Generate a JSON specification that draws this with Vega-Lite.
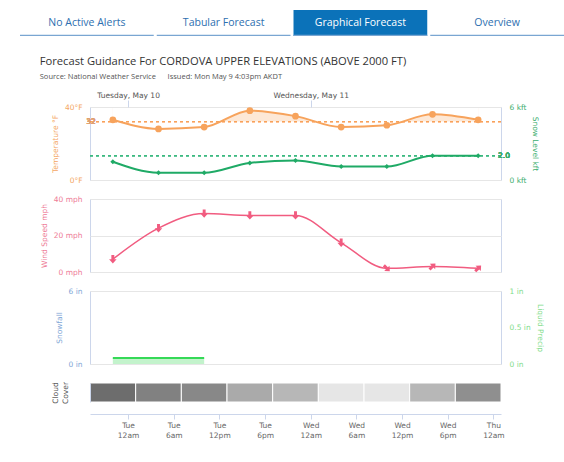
{
  "$schema": "https://vega.github.io/schema/vega-lite/v6.json",
  "background": "white",
  "padding": {"left": 20, "top": 10, "right": 0, "bottom": 5},
  "config": {
    "view": {"stroke": "#ccd6eb"},
    "axis": {"labelFont": "DejaVu Sans", "labelFontSize": 7.5, "titleFont": "DejaVu Sans", "titleFontSize": 7.5, "titleFontWeight": "normal", "domain": false, "ticks": false, "gridColor": "#e6e6e6", "labelPadding": 8, "titlePadding": 5},
    "title": {"font": "Open Sans", "fontSize": 11.2, "fontWeight": "normal", "color": "#333333", "anchor": "start", "subtitleFont": "Open Sans", "subtitleFontSize": 7.5, "subtitleColor": "#555555", "subtitlePadding": 6},
    "text": {"font": "DejaVu Sans"}
  },
  "datasets": {
    "tabs": [
      {"tab": "No Active Alerts", "state": "inactive"},
      {"tab": "Tabular Forecast", "state": "inactive"},
      {"tab": "Graphical Forecast", "state": "active"},
      {"tab": "Overview", "state": "inactive"}
    ],
    "fc": [
      {"t": "2022-05-09T22:00:00", "start": "2022-05-09T19:00:00", "end": "2022-05-10T01:00:00", "temp": 33, "snowlevel": 1.5, "wind": 7, "dir": 180, "cloud": 95},
      {"t": "2022-05-10T04:00:00", "start": "2022-05-10T01:00:00", "end": "2022-05-10T07:00:00", "temp": 28, "snowlevel": 0.6, "wind": 24, "dir": 180, "cloud": 80},
      {"t": "2022-05-10T10:00:00", "start": "2022-05-10T07:00:00", "end": "2022-05-10T13:00:00", "temp": 29, "snowlevel": 0.6, "wind": 32, "dir": 180, "cloud": 75},
      {"t": "2022-05-10T16:00:00", "start": "2022-05-10T13:00:00", "end": "2022-05-10T19:00:00", "temp": 38, "snowlevel": 1.4, "wind": 31, "dir": 180, "cloud": 50},
      {"t": "2022-05-10T22:00:00", "start": "2022-05-10T19:00:00", "end": "2022-05-11T01:00:00", "temp": 35, "snowlevel": 1.6, "wind": 31, "dir": 180, "cloud": 40},
      {"t": "2022-05-11T04:00:00", "start": "2022-05-11T01:00:00", "end": "2022-05-11T07:00:00", "temp": 29, "snowlevel": 1.1, "wind": 16, "dir": 180, "cloud": 5},
      {"t": "2022-05-11T10:00:00", "start": "2022-05-11T07:00:00", "end": "2022-05-11T13:00:00", "temp": 30, "snowlevel": 1.1, "wind": 2, "dir": 135, "cloud": 5},
      {"t": "2022-05-11T16:00:00", "start": "2022-05-11T13:00:00", "end": "2022-05-11T19:00:00", "temp": 36, "snowlevel": 2.0, "wind": 3, "dir": 45, "cloud": 40},
      {"t": "2022-05-11T22:00:00", "start": "2022-05-11T19:00:00", "end": "2022-05-12T01:00:00", "temp": 33, "snowlevel": 2.0, "wind": 2, "dir": 45, "cloud": 70}
    ],
    "snow": [
      {"start": "2022-05-09T22:00:00", "end": "2022-05-10T10:00:00", "snowfall": 0.5}
    ]
  },
  "spacing": 19,
  "vconcat": [
    {
      "width": 411,
      "height": 26,
      "data": {"name": "tabs"},
      "view": {"stroke": null},
      "encoding": {"x": {"field": "tab", "type": "nominal", "sort": null, "axis": null, "scale": {"range": [-70, 474], "paddingInner": 0.022, "paddingOuter": 0}}},
      "layer": [
        {"mark": {"type": "rect"}, "encoding": {"color": {"field": "state", "type": "nominal", "scale": {"domain": ["active", "inactive"], "range": ["#0b72b9", "#ffffff"]}, "legend": null}}},
        {"mark": {"type": "rect", "color": "#7aa6d2"}, "encoding": {"y": {"datum": 0, "type": "quantitative", "scale": {"domain": [0, 1]}, "axis": null}, "y2": {"datum": 0.05}}},
        {"mark": {"type": "text", "font": "Open Sans", "fontSize": 10.5}, "encoding": {"text": {"field": "tab"}, "color": {"field": "state", "type": "nominal", "scale": {"domain": ["active", "inactive"], "range": ["#ffffff", "#2d6fb0"]}, "legend": null}}}
      ],
      "resolve": {"scale": {"color": "independent"}}
    },
    {
      "title": {"text": "Forecast Guidance For CORDOVA UPPER ELEVATIONS (ABOVE 2000 FT)", "subtitle": "Source: National Weather Service\u00a0\u00a0\u00a0\u00a0\u00a0\u00a0Issued: Mon May 9 4:03pm AKDT", "offset": 10},
      "bounds": "flush",
      "spacing": 19,
      "vconcat": [
        {
          "width": 411,
          "height": 73,
          "data": {"name": "fc"},
          "layer": [
            {
              "layer": [
                {
                  "mark": {"type": "area", "interpolate": "monotone", "color": "#fde8d6"},
                  "encoding": {
                    "x": {"field": "t", "type": "temporal", "scale": {"domain": [{"year": 2022, "month": "May", "date": 9, "hours": 19}, {"year": 2022, "month": "May", "date": 12, "hours": 1}]},
                      "axis": {"orient": "top", "values": [{"year": 2022, "month": "May", "date": 10}, {"year": 2022, "month": "May", "date": 11}], "labelExpr": "timeFormat(datum.value, '%A, %B %-d')", "title": null, "grid": false, "ticks": true, "tickSize": 7, "tickColor": "#ccd6eb", "labelPadding": 1, "labelColor": "#555555", "labelFontSize": 7.5}},
                    "y": {"datum": 39.5, "type": "quantitative", "scale": {"domain": [0, 40]},
                      "axis": {"orient": "left", "values": [0, 20, 40], "labelExpr": "datum.value + '°F'", "title": "Temperature °F", "labelColor": "#f4a766", "titleColor": "#f4a766", "grid": true}},
                    "y2": {"datum": 32}
                  }
                },
                {
                  "mark": {"type": "area", "interpolate": "monotone", "color": "#ffffff"},
                  "encoding": {"x": {"field": "t", "type": "temporal"}, "y": {"field": "temp", "type": "quantitative"}, "y2": {"datum": 39.5}}
                },
                {
                  "mark": {"type": "rule", "color": "#f7a35c", "strokeDash": [3, 3], "strokeWidth": 1},
                  "encoding": {"y": {"datum": 32, "type": "quantitative"}}
                },
                {
                  "mark": {"type": "text", "color": "#e0a070", "fontSize": 7.5, "align": "center", "baseline": "middle", "dx": 1},
                  "encoding": {"x": {"datum": {"year": 2022, "month": "May", "date": 9, "hours": 19}, "type": "temporal"}, "y": {"datum": 32, "type": "quantitative"}, "text": {"value": "32"}}
                },
                {
                  "mark": {"type": "line", "interpolate": "monotone", "color": "#f7a35c", "strokeWidth": 2},
                  "encoding": {"x": {"field": "t", "type": "temporal"}, "y": {"field": "temp", "type": "quantitative"}}
                },
                {
                  "mark": {"type": "point", "shape": "circle", "filled": true, "opacity": 1, "color": "#f7a35c", "size": 45},
                  "encoding": {"x": {"field": "t", "type": "temporal"}, "y": {"field": "temp", "type": "quantitative"}}
                }
              ]
            },
            {
              "layer": [
                {
                  "mark": {"type": "rule", "color": "#3dbb80", "strokeDash": [3, 3], "strokeWidth": 1},
                  "encoding": {"y": {"datum": 2, "type": "quantitative", "scale": {"domain": [0, 6]},
                    "axis": {"orient": "right", "values": [0, 3, 6], "labelExpr": "datum.value + ' kft'", "title": "Snow Level kft", "labelColor": "#3cae6e", "titleColor": "#3cae6e", "grid": false}}}
                },
                {
                  "mark": {"type": "text", "color": "#3cae6e", "fontSize": 7.5, "align": "left", "baseline": "middle", "dx": -3},
                  "encoding": {"x": {"datum": {"year": 2022, "month": "May", "date": 12, "hours": 1}, "type": "temporal"}, "y": {"datum": 2, "type": "quantitative"}, "text": {"value": "2.0"}}
                },
                {
                  "mark": {"type": "line", "interpolate": "monotone", "color": "#1faa66", "strokeWidth": 2},
                  "encoding": {"x": {"field": "t", "type": "temporal"}, "y": {"field": "snowlevel", "type": "quantitative"}}
                },
                {
                  "mark": {"type": "point", "shape": "diamond", "filled": true, "opacity": 1, "color": "#1faa66", "size": 25},
                  "encoding": {"x": {"field": "t", "type": "temporal"}, "y": {"field": "snowlevel", "type": "quantitative"}}
                }
              ]
            }
          ],
          "resolve": {"scale": {"y": "independent"}}
        },
        {
          "width": 411,
          "height": 73,
          "data": {"name": "fc"},
          "encoding": {
            "x": {"field": "t", "type": "temporal", "scale": {"domain": [{"year": 2022, "month": "May", "date": 9, "hours": 19}, {"year": 2022, "month": "May", "date": 12, "hours": 1}]}, "axis": null},
            "y": {"field": "wind", "type": "quantitative", "scale": {"domain": [0, 40]},
              "axis": {"orient": "left", "values": [0, 20, 40], "labelExpr": "datum.value + ' mph'", "title": "Wind Speed mph", "labelColor": "#ee7b96", "titleColor": "#ee7b96", "grid": true}}
          },
          "layer": [
            {"mark": {"type": "line", "interpolate": "monotone", "color": "#f15c80", "strokeWidth": 1.5}},
            {"mark": {"type": "point", "shape": "M0,-1L0.9,0L0.35,0L0.35,1L-0.35,1L-0.35,0L-0.9,0Z", "filled": true, "opacity": 1, "color": "#f15c80", "size": 70},
              "encoding": {"angle": {"field": "dir", "type": "quantitative", "scale": {"domain": [0, 360], "range": [0, 360]}}}}
          ]
        },
        {
          "width": 411,
          "height": 73,
          "layer": [
            {
              "data": {"name": "snow"},
              "layer": [
                {
                  "mark": {"type": "rect", "color": "#c3f3cc"},
                  "encoding": {
                    "x": {"field": "start", "type": "temporal", "scale": {"domain": [{"year": 2022, "month": "May", "date": 9, "hours": 19}, {"year": 2022, "month": "May", "date": 12, "hours": 1}]}, "axis": null},
                    "x2": {"field": "end"},
                    "y": {"field": "snowfall", "type": "quantitative", "scale": {"domain": [0, 6]},
                      "axis": {"orient": "left", "values": [0, 3, 6], "labelExpr": "datum.value + ' in'", "title": "Snowfall", "labelColor": "#7fa6d6", "titleColor": "#7fa6d6", "grid": true}},
                    "y2": {"datum": 0}
                  }
                },
                {
                  "mark": {"type": "rule", "color": "#35d957", "strokeWidth": 2},
                  "encoding": {"x": {"field": "start", "type": "temporal"}, "x2": {"field": "end"}, "y": {"field": "snowfall", "type": "quantitative"}}
                }
              ]
            },
            {
              "data": {"name": "snow"},
              "mark": {"type": "rule", "opacity": 0},
              "encoding": {"y": {"datum": 0, "type": "quantitative", "scale": {"domain": [0, 1]},
                "axis": {"orient": "right", "values": [0, 0.5, 1], "labelExpr": "datum.value + ' in'", "title": "Liquid Precip", "labelColor": "#7fdc8a", "titleColor": "#7fdc8a", "grid": false}}}
            }
          ],
          "resolve": {"scale": {"y": "independent"}}
        },
        {
          "width": 411,
          "height": 19,
          "data": {"name": "fc"},
          "view": {"stroke": null},
          "mark": {"type": "rect", "stroke": "#ffffff", "strokeWidth": 1},
          "encoding": {
            "x": {"field": "start", "type": "temporal", "scale": {"domain": [{"year": 2022, "month": "May", "date": 9, "hours": 19}, {"year": 2022, "month": "May", "date": 12, "hours": 1}]},
              "axis": {"orient": "bottom", "offset": 12, "title": null, "domain": true, "domainColor": "#ccd6eb", "ticks": true, "tickColor": "#ccd6eb", "tickSize": 5, "labelPadding": 2, "labelColor": "#666666", "labelFontSize": 7.5, "labelLineHeight": 10, "grid": false,
                "values": [{"year": 2022, "month": "May", "date": 10, "hours": 0}, {"year": 2022, "month": "May", "date": 10, "hours": 6}, {"year": 2022, "month": "May", "date": 10, "hours": 12}, {"year": 2022, "month": "May", "date": 10, "hours": 18}, {"year": 2022, "month": "May", "date": 11, "hours": 0}, {"year": 2022, "month": "May", "date": 11, "hours": 6}, {"year": 2022, "month": "May", "date": 11, "hours": 12}, {"year": 2022, "month": "May", "date": 11, "hours": 18}, {"year": 2022, "month": "May", "date": 12, "hours": 0}],
                "labelExpr": "[timeFormat(datum.value, '%a'), lower(timeFormat(datum.value, '%-I%p'))]"}},
            "x2": {"field": "end"},
            "y": {"datum": "cc", "type": "nominal", "scale": {"paddingInner": 0, "paddingOuter": 0},
              "axis": {"title": ["Cloud", "Cover"], "labels": false, "ticks": false, "domain": true, "domainColor": "#ccd6eb", "titleColor": "#555555", "titlePadding": 21}},
            "color": {"field": "cloud", "type": "quantitative", "scale": {"domain": [0, 100], "range": ["#ededed", "#666666"], "interpolate": "rgb"}, "legend": null}
          }
        }
      ]
    }
  ]
}
